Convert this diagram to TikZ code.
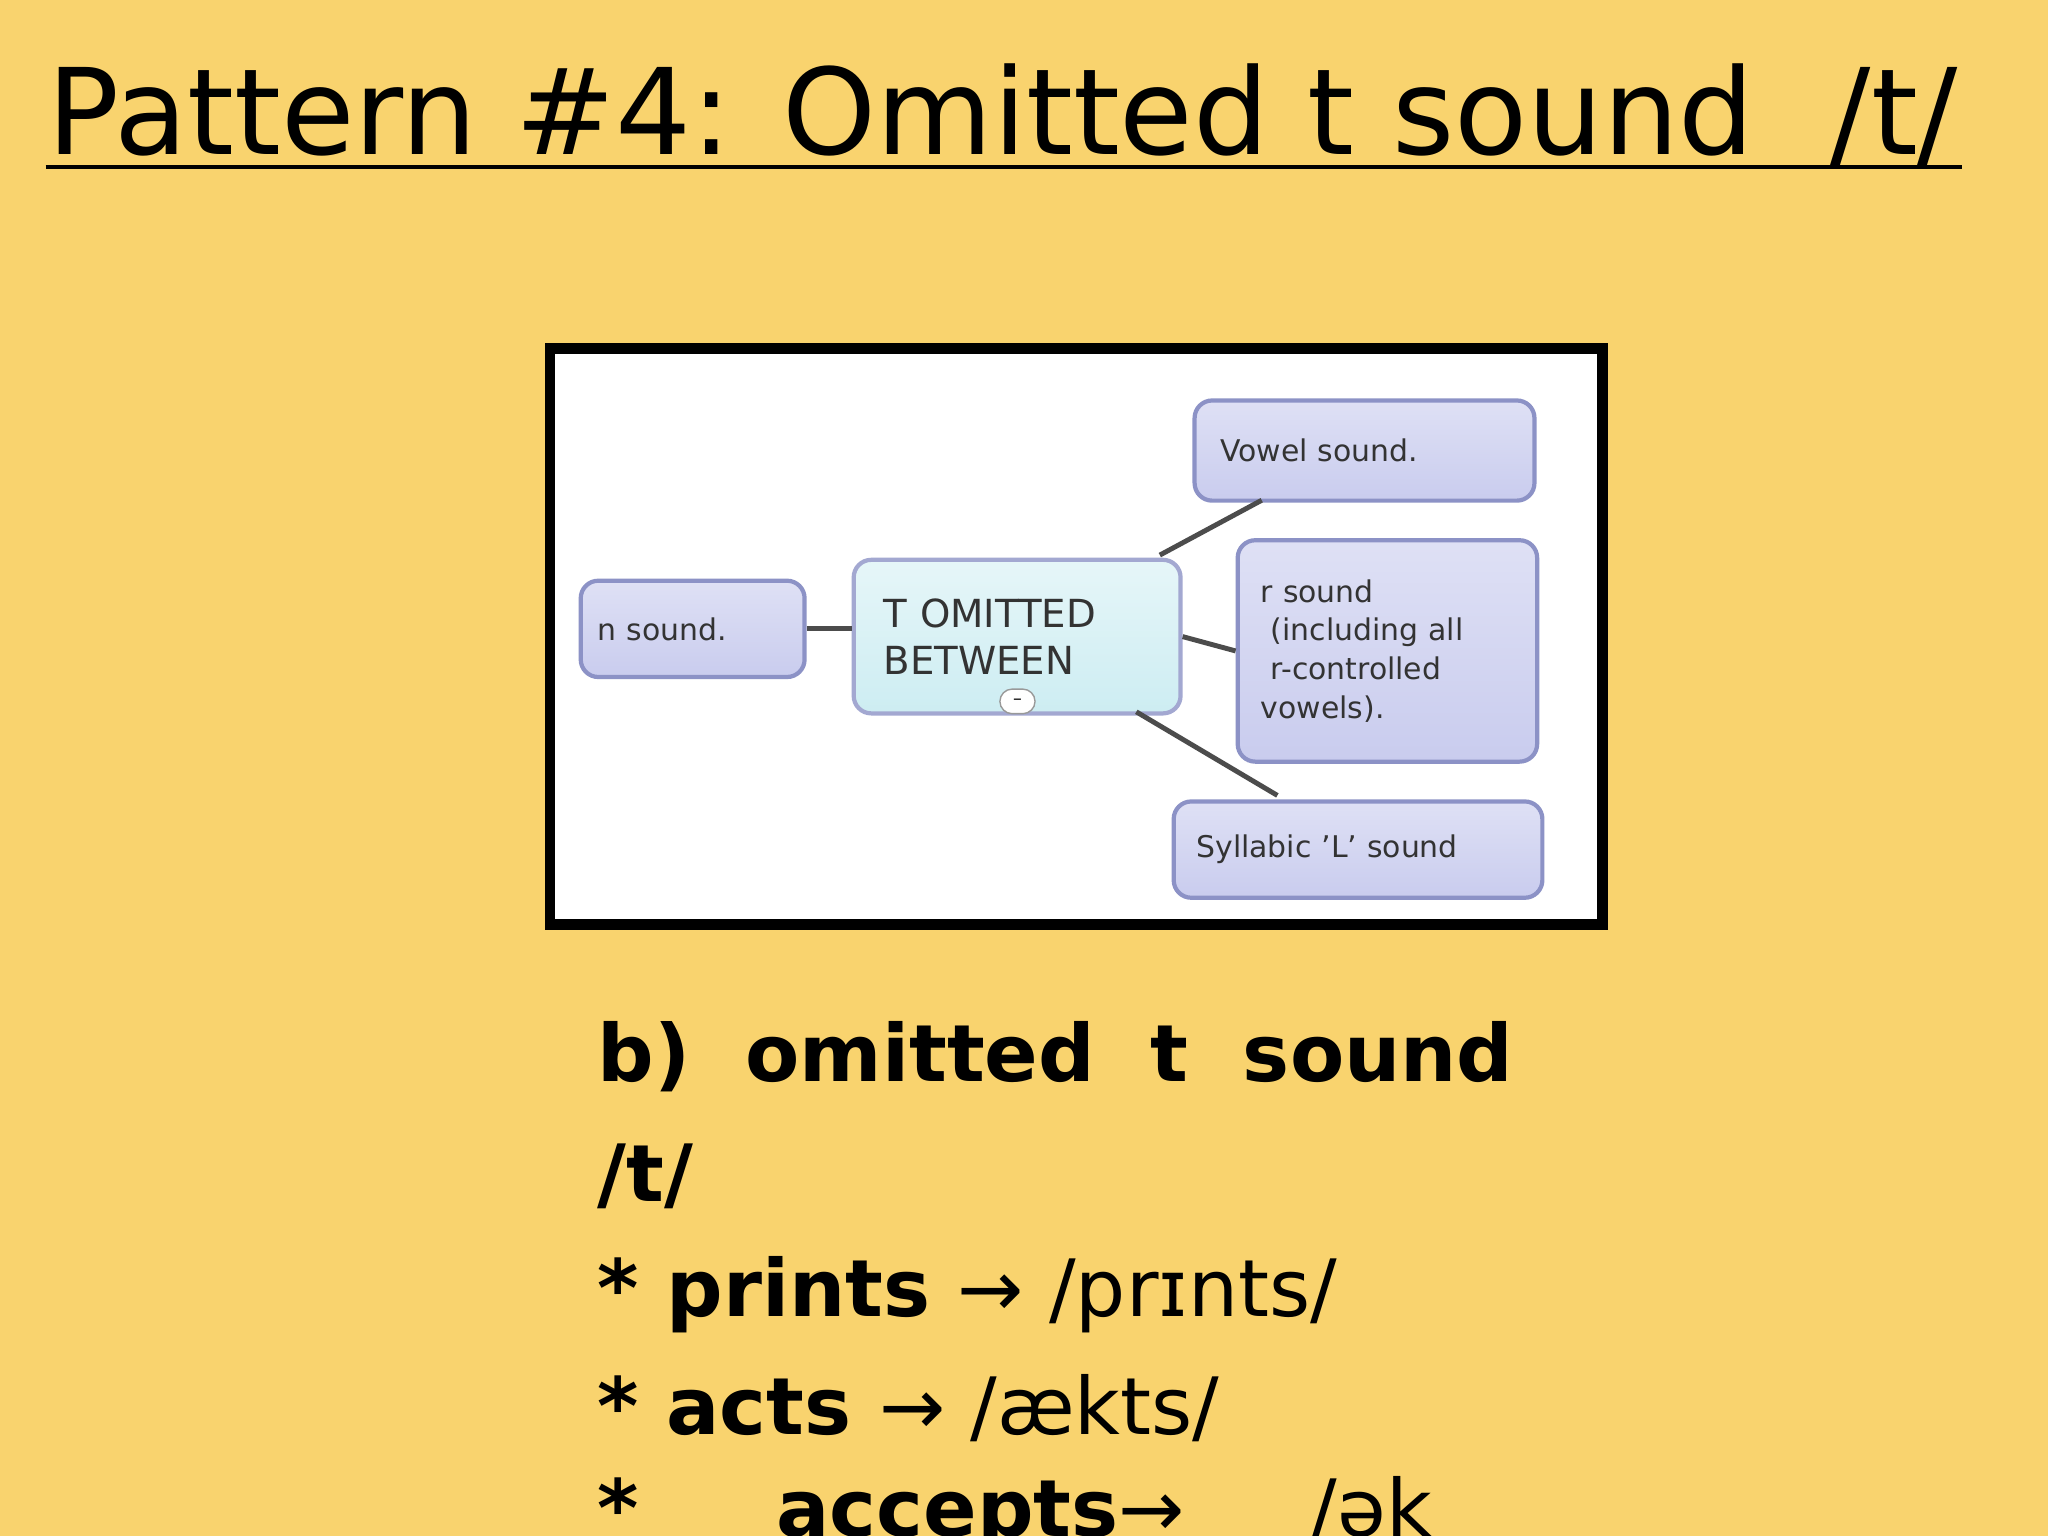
\documentclass[tikz,border=0pt]{standalone}
\usepackage{fontspec}
\setmainfont{DejaVu Sans}
\usetikzlibrary{shapes.misc}
\definecolor{bg}{HTML}{F9D36E}
\definecolor{lav}{HTML}{C9CCEE}
\definecolor{lavb}{HTML}{8C92C6}
\definecolor{cy}{HTML}{CDEDF2}
\tikzset{
 leaf/.style={draw=lavb,line width=1.2pt,rounded corners=5pt,top color=white!40!lav,bottom color=lav,
   inner sep=0pt,font=\fontsize{8.5}{11}\selectfont,text=black!80,align=left},
 conn/.style={draw=black!70,line width=1.4pt},
 body/.style={anchor=base west,font=\fontsize{22.5}{28}\selectfont\bfseries,inner sep=0pt}
}
\begin{document}
\begin{tikzpicture}[x=0.013061cm,y=-0.013061cm]
\fill[bg] (0,0) rectangle (1568,1176);
\useasboundingbox (0,0) rectangle (1568,1176);
\node[anchor=base west,inner sep=0pt,font=\fontsize{34}{38}\selectfont] (title) at (36,118) {Pattern \#4: Omitted t sound\ \ /t/};
\draw[line width=1.3pt] (35,128) coordinate (u1) -- (1502,128) coordinate (u2);
\draw[line width=3pt,fill=white] (421,267) rectangle (1227,708);
\node[leaf,minimum width=96.7pt,minimum height=28.5pt,anchor=north west,text width=82pt] (v) at (913,305) {Vowel sound.};
\node[leaf,minimum width=63.7pt,minimum height=27.4pt,anchor=north west,text width=54pt] (n) at (443,443) {n sound.};
\node[leaf,minimum width=85.2pt,minimum height=63pt,anchor=north west,text width=72pt] (r) at (946,412) {r sound\\ \ (including all\\ \ r-controlled\\ vowels).};
\node[leaf,minimum width=104.9pt,minimum height=27.4pt,anchor=north west,text width=92pt] (s) at (897,612) {Syllabic 'L' sound};
\node[leaf,draw=lavb!80,top color=cy!50!white,bottom color=cy,minimum width=93pt,minimum height=43.7pt,anchor=north west,text width=76pt,font=\fontsize{11}{13.5}\selectfont] (t) at (652,427) {T OMITTED\\BETWEEN};
\node[draw=black!40,fill=white,rounded rectangle,minimum width=10pt,minimum height=7pt,inner sep=0pt,font=\tiny] (m) at (779,537) {--};
\coordinate (c1) at (888,425); \coordinate (c2) at (966,383);
\coordinate (c3) at (870,545); \coordinate (c4) at (978,609);
\draw[conn] (n.east) -- (n.east -| t.west);
\draw[conn] (c1) -- (c2);
\draw[conn] (t.east) -- (r.west);
\draw[conn] (c3) -- (c4);
\node[body] (b1) at (457,828) {b)\ \ omitted\ \ t\ \ sound};
\node[body] (b2) at (457,920) {/t/};
\node[body] (b3) at (457,1008) {* prints {\mdseries → /prɪnts/}};
\node[body] (b4) at (457,1098) {* acts {\mdseries → /ækts/}};
\node[body] (b5) at (457,1176) {*\ \ \ \ \ accepts{\mdseries →\ \ \ \ \ /ək}};
\end{tikzpicture}
\end{document}
